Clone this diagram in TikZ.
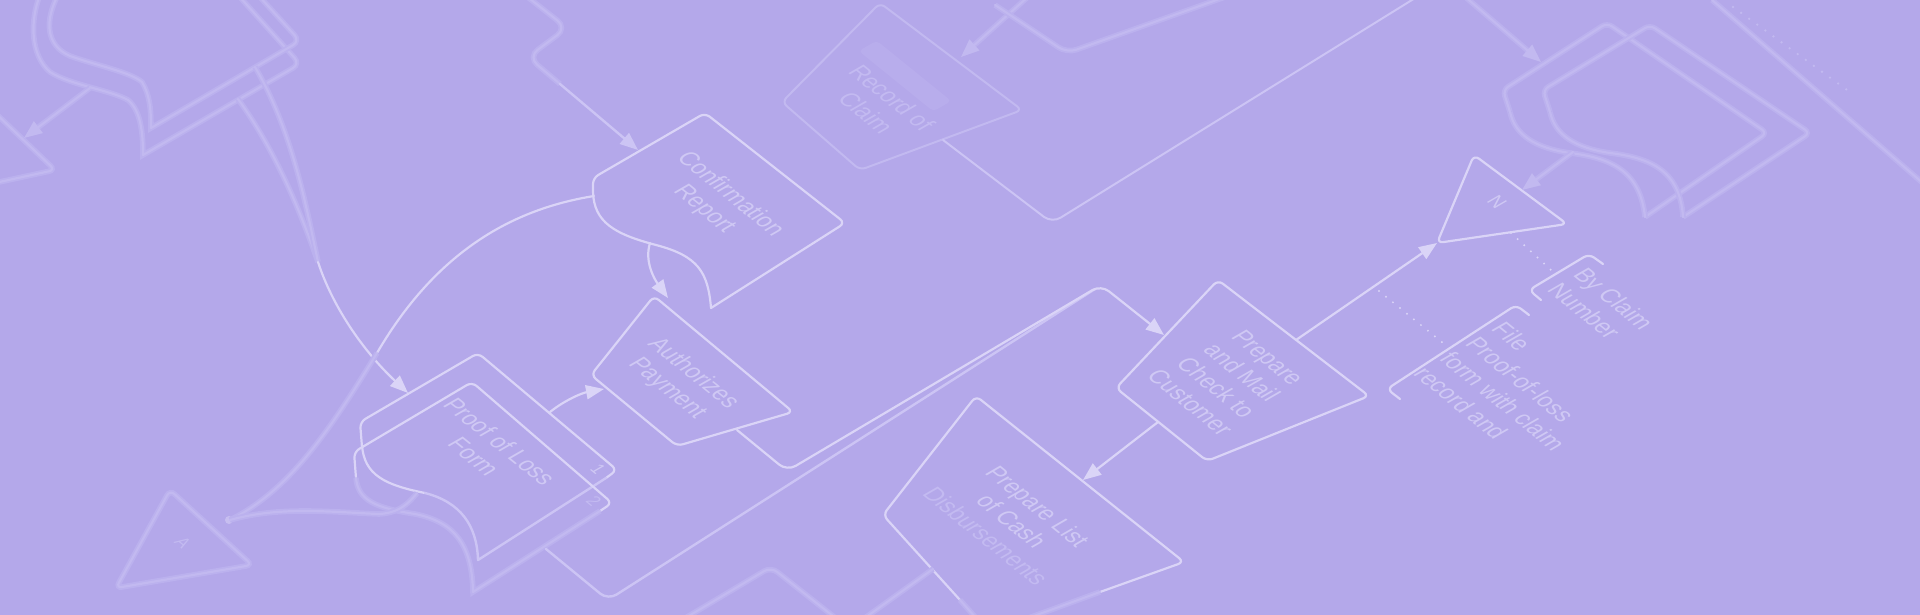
\documentclass[tikz,border=0pt]{standalone}
\usepackage{fontspec}
\setmainfont{Liberation Sans}
\usetikzlibrary{arrows.meta}
\definecolor{bg}{HTML}{B4A8EA}
\definecolor{lc}{HTML}{DAD4F7}
\definecolor{tc}{HTML}{CFC8F4}
\definecolor{tf}{HTML}{C3BAF1}
\definecolor{fc}{HTML}{C2B9F0}
\definecolor{fh}{HTML}{BBB1EE}
\definecolor{mc}{HTML}{CCC4F4}
\newcommand\lbf{\fontsize{11}{13}\selectfont}
\tikzset{
  ln/.style={draw=lc, line width=1.1pt, line join=round, line cap=round},
  md/.style={draw=mc, line width=1.2pt, line join=round, line cap=round},
  fd/.style={draw=fc, line width=1.1pt, line join=round, line cap=round,
             preaction={draw=fh, line width=2.8pt}},
  tip/.style={-{Triangle[length=9pt,width=7pt]}},
  dots/.style={draw=lc, line width=1.1pt, line cap=round, dash pattern=on 0pt off 4.5pt},
  iso/.style={cm={0.777,-0.629,0.996,0.575,(0,0)}, inner sep=0pt},
  boxtxt/.style={iso, text=tc, align=center, font=\lbf},
  notetxt/.style={iso, text=tc, align=left, font=\lbf, anchor=north west},
}
\begin{document}
\begin{tikzpicture}[x=0.5pt,y=-0.5pt]
\fill[bg] (0,0) rectangle (1920,615);
\useasboundingbox (0,0) rectangle (1920,615);
\clip (0,0) rectangle (1920,615);

% ---------- faded top-left documents ----------
\draw[fd] (40,-5) .. controls (30,20) and (30,55) .. (50,72) .. controls (70,85) and (110,90) .. (128,100) .. controls (140,110) and (143,130) .. (143,155) [rounded corners=4pt] -- (300,64) -- (238,-5);
\draw[fd] (58,-5) .. controls (45,20) and (45,45) .. (70,56) .. controls (95,65) and (130,72) .. (142,82) .. controls (150,95) and (151,110) .. (151,128) [rounded corners=4pt] -- (300,41) -- (258,-5);
\coordinate (tlA) at (24,138);
\draw[fd, rounded corners=3pt] (-10,108) -- (55,170) -- (-10,184);
\draw[fd, tip] (90,88) -- (tlA);
\draw[fd] (238,99) .. controls (275,150) and (300,210) .. (318,262);
\draw[fd] (255,67) .. controls (292,130) and (306,205) .. (318,262);

% ---------- triangle A ----------
\draw[fd, rounded corners=3pt] (170,490) -- (252,565) -- (116,588) -- cycle;
\node[iso, text=tf, font=\fontsize{8}{8}\selectfont] (tA) at (183,543) {A};
\fill[lc, opacity=0.5] (229,520) circle (4);

% ---------- Proof of Loss (two stacked documents) ----------
\draw[ln, rounded corners=3pt] (362,447) -- (360,422) -- (478,353) -- (617,470) -- (606,478);
\draw[ln] (362,445) .. controls (364,475) and (385,485) .. (425,493);
\draw[md] (425,493) .. controls (460,502) and (477,525) .. (478,560) -- (606,478);
\draw[ln, rounded corners=3pt] (356,478) -- (354,452) -- (472,382) -- (612,503) -- (600,511);
\draw[fd] (356,478) .. controls (358,500) and (375,508) .. (415,514) .. controls (455,522) and (472,545) .. (473,592) -- (600,511);
\node[iso, text=tc, font=\fontsize{8}{8}\selectfont] (n1) at (598,469) {1};
\node[iso, text=tf, font=\fontsize{8}{8}\selectfont] (n2) at (594,501) {2};
\node[boxtxt] (tPO) at (487,449) {Proof of Loss\\Form};

% connectors around Proof of Loss
\draw[ln, tip] (318,262) .. controls (332,305) and (362,350) .. (408,393);
\draw[ln] (594,196) .. controls (520,208) and (440,245) .. (377,353);
\draw[fd] (377,353) .. controls (330,430) and (290,490) .. (230,520);
\draw[fd] (417,493) .. controls (405,508) and (395,513) .. (379,514) .. controls (330,512) and (280,506) .. (230,520);
\draw[ln, tip] (550,412) .. controls (565,400) and (582,393) .. (604,389);

% ---------- Confirmation Report ----------
\draw[ln, rounded corners=3pt] (593,192) -- (593,178) -- (705,113) -- (845,223) -- (711,308);
\draw[ln] (711,308) .. controls (708,272) and (698,256) .. (656,245) .. controls (614,234) and (594,222) .. (593,192);
\node[boxtxt] (tCR) at (717,202) {Confirmation\\Report};
\draw[fd, rounded corners=6pt] (525,-5) -- (567,28) -- (528,57) -- (560,84);
\draw[md, tip] (560,84) -- (638,150);
\draw[ln, tip] (650,243) .. controls (644,262) and (655,280) .. (668,298);

% ---------- Authorizes Payment ----------
\draw[ln, rounded corners=3pt] (654,296) -- (793,412) -- (677,446) -- (591,375) -- cycle;
\node[boxtxt] (tAP) at (680,381) {Authorizes\\Payment};

% flows to Prepare and Mail
\draw[md, rounded corners=5pt] (546,549) -- (608,600) -- (1095,289);
\draw[ln, tip, rounded corners=5pt] (737,430) -- (787,471) -- (1101,285) -- (1164,335);

% ---------- Prepare and Mail ----------
\draw[ln, rounded corners=3pt] (1218,280) -- (1369,396) -- (1207,461) -- (1116,388) -- cycle;
\node[boxtxt] (tPM) at (1229,380) {Prepare\\and Mail\\Check to\\Customer};
\draw[ln, tip] (1158,422) -- (1083,480);
\draw[ln, tip] (1296,340) -- (1437,243);

% ---------- Prepare List ----------
\draw[ln, rounded corners=3pt] (960,600) -- (883,515) -- (976,396) -- (1184,562) -- (1100,592);
\draw[fd] (960,600) -- (992,636);
\draw[fd] (1100,592) -- (990,632);
\node[boxtxt] (tPL) at (1012,521) {Prepare List\\of Cash\\\textcolor{tf}{Disbursements}};
\draw[fd, rounded corners=4pt] (682,620) -- (771,567) -- (838,620);
\draw[fd] (933,569) -- (862,620);

% ---------- Triangle N and annotations ----------
\draw[ln, rounded corners=3pt] (1474,155) -- (1567,224) -- (1437,243) -- cycle;
\node[iso, text=tc, font=\fontsize{9}{9}\selectfont] (tN) at (1497,202) {N};
\draw[dots] (1511,233) -- (1552,271);
\draw[dots] (1379,291) -- (1443,343);
\draw[ln, rounded corners=3pt] (1603,264) -- (1589,254) -- (1529,290) -- (1541,300);
\draw[ln, rounded corners=3pt] (1529,315) -- (1516,305) -- (1387,389) -- (1400,399);
\node[notetxt] (tBC) at (1588,266) {By Claim\\Number};
\node[notetxt] (tFL) at (1506,320) {File\\Proof-of-loss\\form with claim\\record and};

% ---------- faded top centre: Record of Claim ----------
\draw[draw=fc, line width=1pt, rounded corners=3pt] (880,3) -- (1022,110) -- (860,170) -- (782,102) -- cycle;
\begin{scope}[shift={(905,76)}, cm={0.777,-0.629,0.996,0.575,(0,0)}]
  \fill[tf, opacity=0.3, rounded corners=2pt] (-48,-9) rectangle (48,9);
\end{scope}
\node[boxtxt, text=tf] (tRC) at (879,105) {Record of\\Claim};
\draw[md, line width=1pt, rounded corners=5pt] (943,140) -- (1052,223) -- (1420,-5);
\draw[fd, tip] (1030,-5) -- (961,57);
\draw[fd, rounded corners=5pt] (995,5) -- (1067,53) -- (1225,-3);

% ---------- faded top right documents ----------
\draw[fd, rounded corners=3pt] (1510,112) -- (1503,90) -- (1607,23) -- (1767,133) -- (1645,217);
\draw[fd] (1510,112) .. controls (1515,135) and (1535,148) .. (1570,153) .. controls (1610,158) and (1640,170) .. (1645,217);
\draw[fd, rounded corners=3pt] (1550,112) -- (1543,90) -- (1650,25) -- (1810,133) -- (1683,217);
\draw[fd] (1550,112) .. controls (1555,135) and (1575,148) .. (1610,153) .. controls (1650,158) and (1680,170) .. (1683,217);
\draw[fd, tip] (1573,152) -- (1522,190);
\draw[fd, tip] (1463,-5) -- (1541,62);
\draw[draw=fc, line width=1.3pt, line cap=round, dash pattern=on 0pt off 5pt] (1733,7) -- (1847,90);
\draw[fd] (1712,0) -- (1925,185);
\end{tikzpicture}
\end{document}
